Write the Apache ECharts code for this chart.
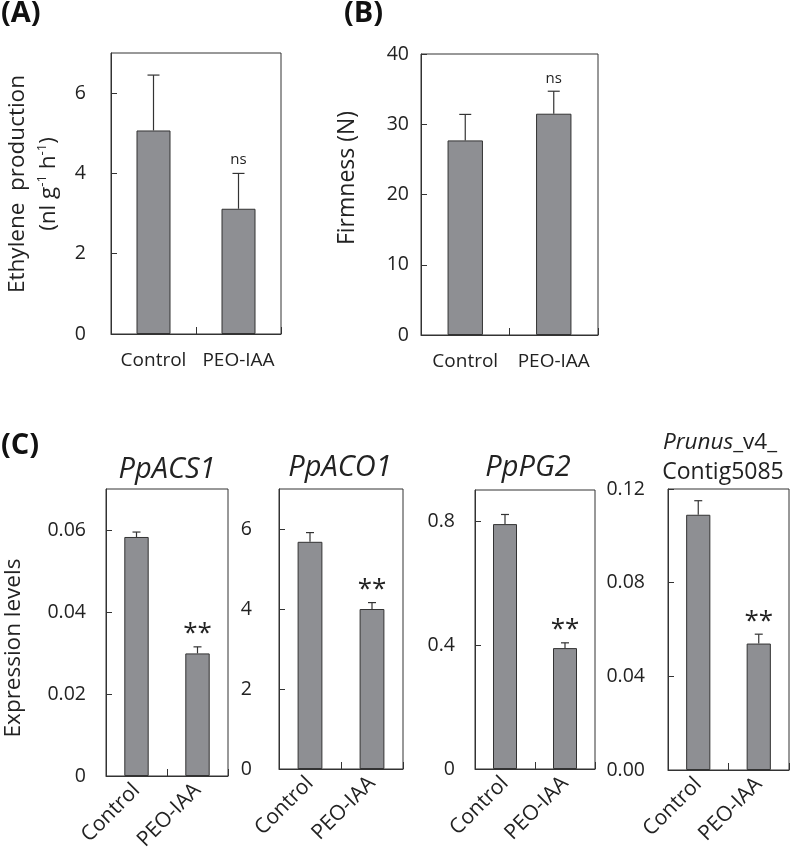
<!DOCTYPE html>
<html><head><meta charset="utf-8">
<script src="https://cdn.jsdelivr.net/npm/echarts@6/dist/echarts.min.js"></script>
<style>html,body{margin:0;padding:0;background:#fff}#c{width:791px;height:857px}</style>
</head><body><div id="c"></div>
<script>
// ---- data ----
const categories = ['Control', 'PEO-IAA'];
const ethylene = [5.07, 3.12];
const ethyleneErr = [1.38, 0.88];
const firmness = [27.7, 31.5];
const firmnessErr = [3.7, 3.2];
const acs1 = [0.0583, 0.0299];
const acs1Err = [0.0012, 0.0016];
const aco1 = [5.68, 4.00];
const aco1Err = [0.23, 0.16];
const pg2 = [0.79, 0.39];
const pg2Err = [0.031, 0.017];
const contig = [0.109, 0.054];
const contigErr = [0.006, 0.004];
const sigAB = ['', 'ns'];
const sigC = ['', '**'];
// axis ranges [min, max, interval]
const rangeA = [0, 7, 2];
const rangeB = [0, 40, 10];
const rangeACS1 = [0, 0.07, 0.02];
const rangeACO1 = [0, 7, 2];
const rangePG2 = [0, 0.9, 0.4];
const rangeContig = [0, 0.12, 0.04];

const FONT = '"Open Sans", "Noto Sans", sans-serif';
const TXT = '#222';
const LINE = '#333';
const BAR = '#8e8f93';

const panels = [
  {grid:{left:111, top:53, width:170, height:281}, vals:ethylene, err:ethyleneErr, sig:sigAB, range:rangeA,
   cap:12, sigSize:15, sigGap:6, rot:0, xSize:19, xMargin:17, yMargin:25, hideMax:true, fmt:null},
  {grid:{left:421, top:54, width:177, height:281}, vals:firmness, err:firmnessErr, sig:sigAB, range:rangeB,
   cap:12, sigSize:15, sigGap:5, rot:0, xSize:19, xMargin:17, yMargin:12, hideMax:false, fmt:null},
  {grid:{left:106, top:489, width:122, height:287}, vals:acs1, err:acs1Err, sig:sigC, range:rangeACS1,
   cap:8, sigSize:26, sigGap:0, rot:45, xSize:21, xMargin:11, yMargin:20, hideMax:true, fmt:null},
  {grid:{left:279, top:489, width:124, height:280}, vals:aco1, err:aco1Err, sig:sigC, range:rangeACO1,
   cap:8, sigSize:26, sigGap:0, rot:45, xSize:21, xMargin:11, yMargin:27, hideMax:true, fmt:null},
  {grid:{left:475, top:490, width:120, height:279}, vals:pg2, err:pg2Err, sig:sigC, range:rangePG2,
   cap:8, sigSize:26, sigGap:0, rot:45, xSize:21, xMargin:11, yMargin:20, hideMax:true, fmt:null},
  {grid:{left:668, top:489, width:121, height:281}, vals:contig, err:contigErr, sig:sigC, range:rangeContig,
   cap:8, sigSize:26, sigGap:0, rot:45, xSize:21, xMargin:11, yMargin:23, hideMax:false, fmt:(v)=>v.toFixed(2)}
];

const grids = [], xAxes = [], yAxes = [], series = [];
panels.forEach((p, i) => {
  grids.push(Object.assign({show:true, borderColor:LINE, borderWidth:1, backgroundColor:'transparent'}, p.grid));
  xAxes.push({
    type:'category', gridIndex:i, data:categories,
    axisLine:{show:true, lineStyle:{color:LINE, width:1}},
    axisTick:{show:true, inside:true, length:7, interval:0, lineStyle:{color:LINE}},
    axisLabel:{fontFamily:FONT, fontSize:p.xSize, color:TXT, margin:p.xMargin, rotate:p.rot, interval:0},
    splitLine:{show:false}
  });
  const y = {
    type:'value', gridIndex:i, min:p.range[0], max:p.range[1], interval:p.range[2],
    axisLine:{show:true, lineStyle:{color:LINE, width:1}},
    axisTick:{show:true, inside:true, length:6, lineStyle:{color:LINE}},
    axisLabel:{fontFamily:FONT, fontSize:19.5, color:TXT, margin:p.yMargin, showMaxLabel:!p.hideMax},
    splitLine:{show:false}
  };
  if (p.fmt) y.axisLabel.formatter = p.fmt;
  yAxes.push(y);
  series.push({
    type:'bar', xAxisIndex:i, yAxisIndex:i, data:p.vals, barWidth:'40%',
    itemStyle:{color:BAR, borderColor:LINE, borderWidth:1}, silent:true, animation:false
  });
  series.push({
    type:'custom', xAxisIndex:i, yAxisIndex:i, animation:false, silent:true,
    data:p.vals.map((v, k) => [k, v, p.err[k]]),
    renderItem:(params, api) => {
      const k = api.value(0), v = api.value(1), e = api.value(2);
      const p0 = api.coord([k, v]);
      const p1 = api.coord([k, v + e]);
      const h = p.cap / 2;
      const children = [
        {type:'line', shape:{x1:p0[0], y1:p0[1], x2:p1[0], y2:p1[1]}, style:{stroke:LINE, lineWidth:1.2}},
        {type:'line', shape:{x1:p1[0]-h, y1:p1[1], x2:p1[0]+h, y2:p1[1]}, style:{stroke:LINE, lineWidth:1.2}}
      ];
      const s = p.sig[params.dataIndex];
      if (s) children.push({type:'text', style:{text:s, x:p1[0], y:p1[1]-p.sigGap, align:'center', verticalAlign:'bottom',
        fontFamily:FONT, fontSize:p.sigSize, fill:TXT}});
      return {type:'group', children};
    }
  });
});

const geneTitle = {fill:TXT, fontFamily:FONT, fontSize:29, fontStyle:'italic', align:'center', verticalAlign:'middle'};
const panelLabel = {fontFamily:FONT, fontSize:29, fontWeight:'bold', fill:'#111'};
const option = {
  animation:false,
  backgroundColor:'#fff',
  grid:grids, xAxis:xAxes, yAxis:yAxes, series,
  graphic:[
    {type:'text', left:1, top:-1, style:Object.assign({text:'(A)'}, panelLabel)},
    {type:'text', left:344, top:-1, style:Object.assign({text:'(B)'}, panelLabel)},
    {type:'text', left:1, top:431, style:Object.assign({text:'(C)'}, panelLabel)},
    {type:'text', x:33, y:184, rotation:Math.PI/2, style:{
      text:'{a|Ethylene  production}\n{a|(nl g}{s|-1}{a| h}{s|-1}{a|)}', align:'center', verticalAlign:'middle',
      rich:{a:{fontFamily:FONT, fontSize:22.5, fill:TXT, lineHeight:31},
            s:{fontFamily:FONT, fontSize:13, fill:TXT, lineHeight:31, padding:[0,0,12,0]}}}},
    {type:'text', x:347, y:178, rotation:Math.PI/2, style:{text:'Firmness (N)', fontFamily:FONT, fontSize:23, fill:TXT, align:'center', verticalAlign:'middle'}},
    {type:'text', x:14, y:648, rotation:Math.PI/2, style:{text:'Expression levels', fontFamily:FONT, fontSize:22.5, fill:TXT, align:'center', verticalAlign:'middle'}},
    {type:'text', x:167, y:470, style:Object.assign({text:'PpACS1'}, geneTitle)},
    {type:'text', x:340, y:468, style:Object.assign({text:'PpACO1'}, geneTitle)},
    {type:'text', x:528, y:468, style:Object.assign({text:'PpPG2'}, geneTitle)},
    {type:'text', x:720, y:443, style:{text:'{i|Prunus}{n|_v4_}', align:'center', verticalAlign:'middle',
      rich:{i:{fontFamily:FONT, fontSize:22.5, fontStyle:'italic', fill:TXT}, n:{fontFamily:FONT, fontSize:22.5, fill:TXT}}}},
    {type:'text', x:723, y:472, style:{text:'Contig5085', align:'center', verticalAlign:'middle', fill:TXT, fontFamily:FONT, fontSize:23}}
  ]
};
const chart = echarts.init(document.getElementById('c'), null, {renderer:'canvas'});
chart.setOption(option);
</script></body></html>
